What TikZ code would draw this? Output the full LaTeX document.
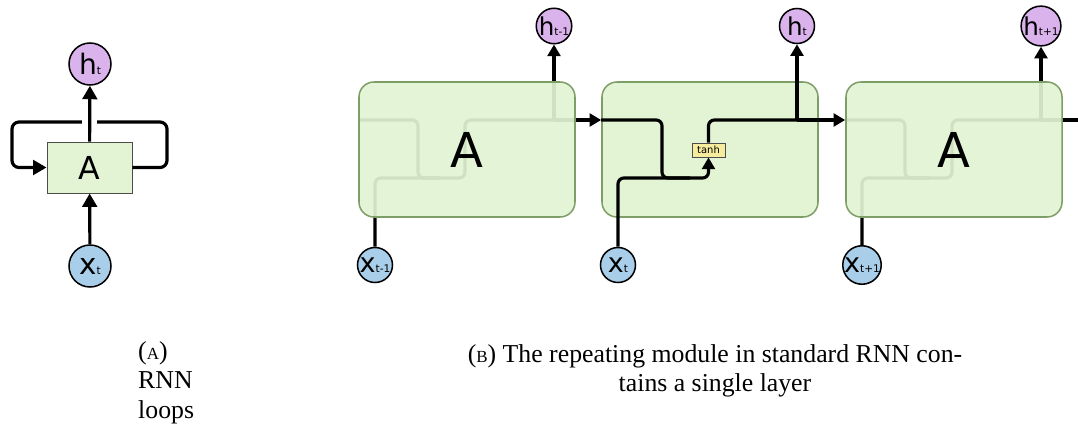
\documentclass[tikz,border=0pt]{standalone}
\usepackage{fontspec}
\setmainfont{Liberation Serif}
\newfontfamily\labelfont{DejaVu Sans}
\usetikzlibrary{arrows.meta,backgrounds}

\definecolor{cellgreen}{HTML}{E2F4D4}
\definecolor{celledge}{HTML}{7E9E68}
\definecolor{hpurple}{HTML}{DAB2EC}
\definecolor{xblue}{HTML}{A9CEEA}
\definecolor{tanhyellow}{HTML}{F6EC9E}

\newcommand{\lbl}[3]{{\fontsize{#1}{#1}\selectfont #2}{\fontsize{9}{9}\selectfont #3}}

\begin{document}
\begin{tikzpicture}[x=0.03cm,y=-0.03cm,
  font=\labelfont,
  flow/.style={line width=2.7pt,rounded corners=5pt},
  arr/.style={-{Triangle[width=11pt,length=10pt]}},
  big arr/.style={-{Triangle[width=12.5pt,length=11.5pt]}},
  h node/.style={circle,draw,line width=1.3pt,fill=hpurple,inner sep=0pt,minimum size=1.05cm},
  x node/.style={circle,draw,line width=1.3pt,fill=xblue,inner sep=0pt,minimum size=1.05cm},
  cell/.style={draw=celledge,line width=1.3pt,fill=cellgreen,rounded corners=0.45cm,
    minimum width=6.48cm,minimum height=4.05cm,font=\labelfont\fontsize{41}{41}\selectfont},
  faint cell/.style={cell,fill opacity=0.92,text opacity=1},
  caption/.style={font=\fontsize{22}{25.5}\selectfont,inner sep=0pt}]
  \useasboundingbox (0,0) rectangle (1078,425);

  % (a) the rolled-up loop
  \node[draw=black!70,line width=0.8pt,fill=cellgreen,minimum width=2.55cm,minimum height=1.53cm,
    font=\labelfont\fontsize{27}{27}\selectfont] (A) at (89.5,167.5) {A};
  \node[h node,minimum size=1.26cm] (h) at (90,64) {\lbl{24}{h}{t}};
  \node[x node,minimum size=1.26cm] (x) at (90,266) {\lbl{25}{x}{t}};
  \draw[flow,big arr] (x) -- (A);
  \draw[flow,big arr,rounded corners=6pt] (A.east) -- (167,167.5) -- (167,122) -- (12,122) -- (12,167.5) -- (A.west);
  \draw[white,line width=12pt] ([yshift=2pt]A.north) -- ([yshift=25pt]A.north);
  \draw[flow,big arr] (A) -- (h);

  % (b) three copies of the cell
  \node[faint cell] (A1) at (467,149.5) {A};
  \node[cell] (A2) at (710,149.5) {};
  \node[faint cell] (A3) at (954,149.5) {A};
  \node[draw=black!70,line width=0.8pt,fill=tanhyellow,minimum width=0.99cm,minimum height=0.42cm,
    inner sep=0pt,font=\labelfont\fontsize{8.5}{8.5}\selectfont] (tanh) at (708.5,150) {tanh};

  \node[h node] (h1) at (554,26) {\lbl{21}{h}{t-1}};
  \node[h node] (h2) at (797,26) {\lbl{21}{h}{t}};
  \node[h node] (h3) at (1041,26) {\lbl{21}{h}{t+1}};
  \node[x node] (x1) at (375,265) {\lbl{23}{x}{t-1}};
  \node[x node] (x2) at (618,265) {\lbl{23}{x}{t}};
  \node[x node] (x3) at (862,265) {\lbl{23}{x}{t+1}};

  \coordinate (s1) at (554,120);
  \coordinate (s2) at (797,120);
  \coordinate (s3) at (1041,120);
  \coordinate (next) at (1092,120);

  % hidden wiring behind the outer cells
  \begin{pgfonlayer}{background}
    \draw[flow] (A1.west |- s1) -- (418,120) -- (418,178) -- (440,178);
    \draw[flow] (x1) -- (375,178) -- (465,178) -- (465,120) -- (s1);
    \draw[flow] (s1) -- (s1 -| A1.east);
    \draw[flow,arr] (s1) -- (h1);
    \draw[flow] (A3.west |- s2) -- (905,120) -- (905,178) -- (930,178);
    \draw[flow] (x3) -- (862,178) -- (952,178) -- (952,120) -- (s3);
    \draw[flow] (s3) -- (s3 -| A3.east);
    \draw[flow,arr] (s3) -- (h3);
  \end{pgfonlayer}

  % wiring of the middle cell
  \draw[flow,arr] (s1 -| A1.east) -- (s1 -| A2.west);
  \draw[flow] (A2.west |- s1) -- (662,120) -- (662,178) -- (690,178);
  \draw[flow,arr] (x2) -- (618,178) -- (708.5,178) -- (tanh);
  \draw[flow] (tanh) -- (708.5,120) -- (s2);
  \draw[flow,arr] (s2) -- (h2);
  \draw[flow,arr] (s2) -- (s2 -| A3.west);
  \draw[flow,arr] (s3 -| A3.east) -- (next);

  % captions
  \node[caption,anchor=north west,align=left] (capA) at (138,341)
    {({\fontsize{14.5}{14.5}\selectfont A})\\RNN\\loops};
  \node[caption,anchor=north,align=center] (capB) at (715,344)
    {({\fontsize{14.5}{14.5}\selectfont B}) The repeating module in standard RNN con-\\tains a single layer};
\end{tikzpicture}
\end{document}
